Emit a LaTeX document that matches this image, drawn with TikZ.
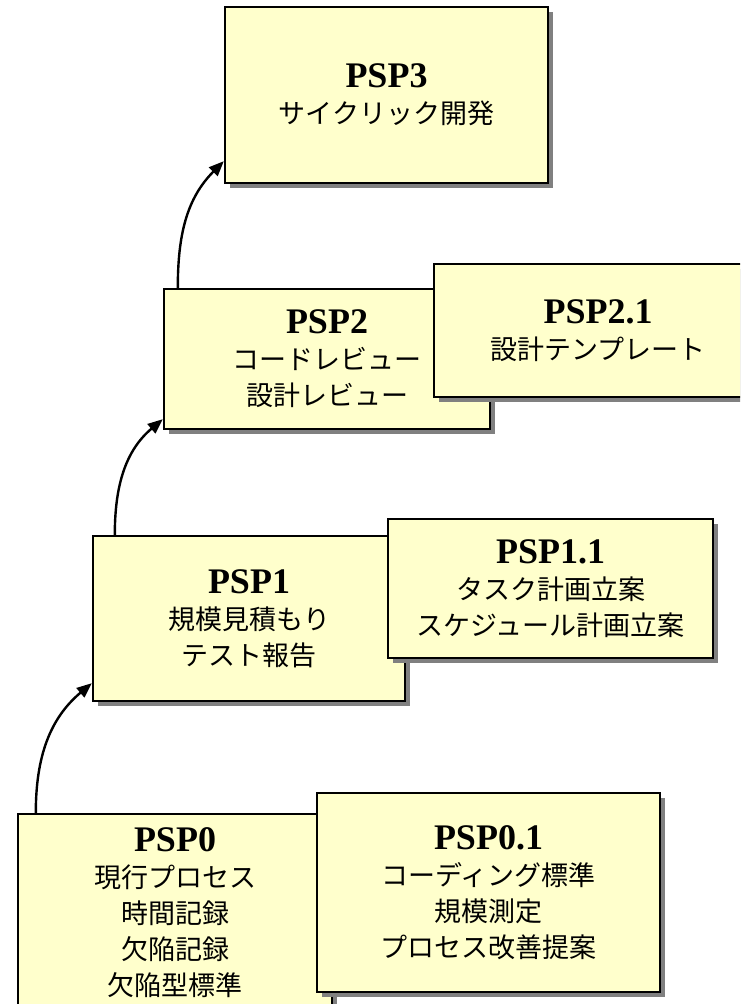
\documentclass[tikz,border=0pt]{standalone}
\usepackage{fontspec}
\setmainfont{Liberation Serif}
\newfontfamily\jpfont{Noto Sans CJK JP}
\usepackage{tikz}
\usetikzlibrary{arrows.meta}
\usetikzlibrary{shadows}

\definecolor{boxyellow}{HTML}{FFFFCC}
\definecolor{shadowgray}{HTML}{808080}
\newcommand{\pspname}[1]{{\rmfamily\bfseries\fontsize{36}{37}\selectfont #1}}

\begin{document}
\begin{tikzpicture}[x=1pt,y=1pt]
		\clip (0,0) rectangle (740,1004);
		\begin{scope}[every node/.style={rectangle,draw=black,line width=2.4pt,fill=boxyellow,
		              drop shadow={shadow xshift=5pt,shadow yshift=-5pt,fill=shadowgray,opacity=1},
		              align=center,inner sep=0pt,font=\jpfont\fontsize{27}{36}\selectfont}]
			\node[minimum width=323pt,minimum height=176pt] (psp3) at (386.5,909) {\pspname{PSP3}\\サイクリック開発};
			\node[minimum width=326pt,minimum height=140pt] (psp2) at (327,645) {\pspname{PSP2}\\コードレビュー\\設計レビュー};
			\node[minimum width=328pt,minimum height=133pt] (psp21) at (598,673.5) {\pspname{PSP2.1}\\設計テンプレート};
			\node[minimum width=312pt,minimum height=165pt] (psp1) at (249,385.5) {\pspname{PSP1}\\規模見積もり\\テスト報告};
			\node[minimum width=325pt,minimum height=139pt] (psp11) at (550.5,415.5) {\pspname{PSP1.1}\\タスク計画立案\\スケジュール計画立案};
			\node[minimum width=314pt,minimum height=198pt] (psp0) at (175,91) {\pspname{PSP0}\\現行プロセス\\時間記録\\欠陥記録\\欠陥型標準};
			\node[minimum width=343pt,minimum height=199pt] (psp01) at (488.5,111.5) {\pspname{PSP0.1}\\コーディング標準\\規模測定\\プロセス改善提案};
		\end{scope}
		
		\begin{scope}[>={Triangle[length=15pt,width=12pt]},
		              every edge/.style={draw=black,line width=2.4pt}]
			\path[->] ([xshift=19pt]psp0.north west) edge[out=90,in=220] ([yshift=19pt]psp1.south west);
			\path[->] ([xshift=23pt]psp1.north west) edge[out=90,in=220] ([yshift=11pt]psp2.south west);
			\path[->] ([xshift=15pt]psp2.north west) edge[out=90,in=225] ([yshift=23pt]psp3.south west);
		\end{scope}
\end{tikzpicture}
\end{document}
